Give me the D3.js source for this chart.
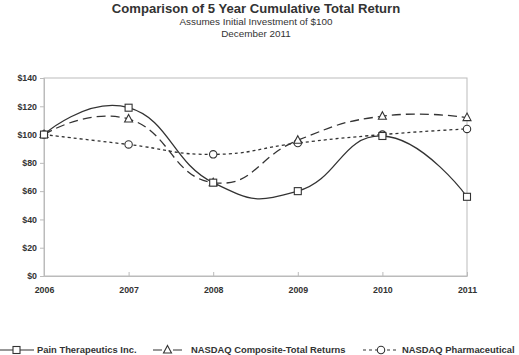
<!DOCTYPE html>
<html><head><meta charset="utf-8">
<script src="https://cdn.jsdelivr.net/npm/d3@7"></script>
<style>body{margin:0;background:#fff}svg{display:block}text{font-family:"Liberation Sans",Arial,Helvetica,sans-serif}</style>
</head><body><svg id="c" width="519" height="355"></svg>
<script>
const years = ["2006","2007","2008","2009","2010","2011"];
const painTherapeutics = [100, 119, 66, 60, 99, 56];
const nasdaqComposite = [100, 111, 66, 96, 113, 112];
const nasdaqPharma = [100, 93, 86, 94, 100, 104];
const yTicks = [0, 20, 40, 60, 80, 100, 120, 140];
const seriesNames = ["Pain Therapeutics Inc.", "NASDAQ Composite-Total Returns", "NASDAQ Pharmaceutical"];

const svg = d3.select("#c");
const col = "#333";
const L = 44, R = 467, T = 78, B = 276;
const x = d3.scalePoint().domain(years).range([L, R]);
const y = d3.scaleLinear().domain([0, 140]).range([B, T]);

// titles
svg.append("text").attr("x", 256).attr("y", 13).attr("text-anchor","middle")
  .attr("font-size", 13.1).attr("font-weight","bold").attr("fill", col)
  .text("Comparison of 5 Year Cumulative Total Return");
svg.append("text").attr("x", 256).attr("y", 25).attr("text-anchor","middle")
  .attr("font-size", 9.9).attr("fill", col).text("Assumes Initial Investment of $100");
svg.append("text").attr("x", 256).attr("y", 37).attr("text-anchor","middle")
  .attr("font-size", 9.9).attr("fill", col).text("December 2011");

// plot border
svg.append("rect").attr("x", L).attr("y", T).attr("width", R-L).attr("height", B-T)
  .attr("fill","none").attr("stroke","#bbb").attr("stroke-width",1);

// y axis
const ya = svg.append("g").attr("transform",`translate(${L},0)`)
  .call(d3.axisLeft(y).tickValues(yTicks).tickSize(4).tickPadding(3).tickFormat(d => "$" + d));
ya.select(".domain").attr("stroke","#bbb");
ya.selectAll(".tick line").attr("stroke","#bbb");
ya.selectAll("text").attr("font-size", 8.8).attr("font-weight","bold").attr("fill", col)
  .style("font-family",'"Liberation Sans",Arial,sans-serif');

// x axis
const xa = svg.append("g").attr("transform",`translate(0,${B})`)
  .call(d3.axisBottom(x).tickSizeInner(-4).tickSizeOuter(0).tickPadding(11));
xa.select(".domain").attr("stroke","#bbb");
xa.selectAll(".tick line").attr("stroke","#bbb");
xa.selectAll("text").attr("font-size", 8.8).attr("font-weight","bold").attr("fill", col)
  .style("font-family",'"Liberation Sans",Arial,sans-serif');

const series = [
  {name: seriesNames[0], vals: painTherapeutics, dash: null, legDash: null, marker: "square"},
  {name: seriesNames[1], vals: nasdaqComposite, dash: "9,5", legDash: "9,11", marker: "triangle"},
  {name: seriesNames[2], vals: nasdaqPharma, dash: "3,3", legDash: "3,3", marker: "circle"}
];

const line = d3.line().x((d,i) => x(years[i])).y(d => y(d)).curve(d3.curveCardinal.tension(-0.45));

function drawMarker(g, type, cx, cy) {
  if (type === "square") {
    g.append("rect").attr("x", cx-3.5).attr("y", cy-3.5).attr("width", 7).attr("height", 7)
      .attr("fill","#fff").attr("stroke", col).attr("stroke-width", 1.1);
  } else if (type === "triangle") {
    g.append("path").attr("d", `M${cx},${cy-4.5}L${cx+4},${cy+3}L${cx-4},${cy+3}Z`)
      .attr("fill","#fff").attr("stroke", col).attr("stroke-width", 1.1);
  } else {
    g.append("circle").attr("cx", cx).attr("cy", cy).attr("r", 3.7)
      .attr("fill","#fff").attr("stroke", col).attr("stroke-width", 1.1);
  }
}

[...series].reverse().forEach(s => {
  svg.append("path").attr("d", line(s.vals)).attr("fill","none").attr("stroke", col)
    .attr("stroke-width", 1.3).attr("stroke-dasharray", s.dash);
});
[...series].reverse().forEach(s => {
  const g = svg.append("g");
  s.vals.forEach((v,i) => drawMarker(g, s.marker, x(years[i]), y(v)));
});

// legend
const ly = 350;
const legendPos = [{x0:0, x1:34, m:16.5, tx:37}, {x0:153, x1:182, m:167.5, tx:191}, {x0:363, x1:399, m:381, tx:402}];
series.forEach((s, i) => {
  const p = legendPos[i];
  const g = svg.append("g");
  g.append("line").attr("x1", p.x0).attr("x2", p.x1).attr("y1", ly).attr("y2", ly)
    .attr("stroke", col).attr("stroke-width", 1.2).attr("stroke-dasharray", s.legDash);
  drawMarker(g, s.marker, p.m, ly);
  g.append("text").attr("x", p.tx).attr("y", ly + 3.3).attr("font-size", 9.4)
    .attr("font-weight","bold").attr("fill", col).text(s.name);
});
</script></body></html>
